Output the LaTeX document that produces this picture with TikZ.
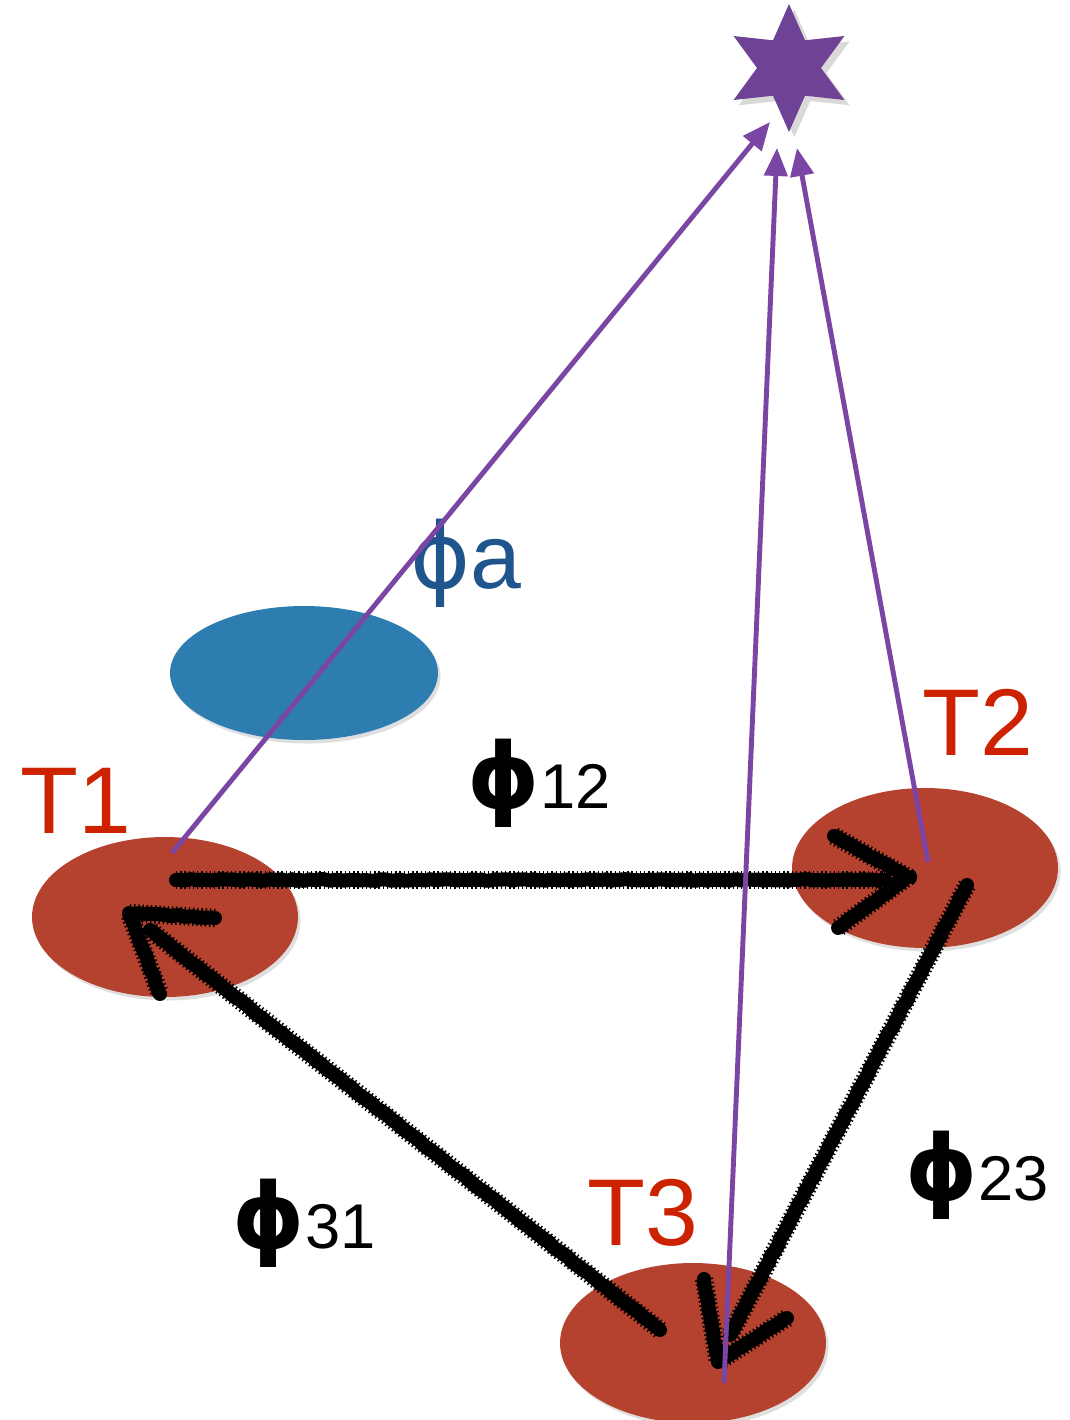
\documentclass[tikz,border=0pt]{standalone}
\usepackage{fontspec}
\setmainfont{Liberation Sans}
\newfontfamily\phifont{DejaVu Sans}
\usetikzlibrary{shapes.geometric,arrows.meta,decorations.pathmorphing,shadows}

\definecolor{tokenred}{HTML}{B5412F}
\definecolor{labelred}{HTML}{CC2200}
\definecolor{anchorblue}{HTML}{2E7DB0}
\definecolor{phiblue}{HTML}{1F558C}
\definecolor{rayviolet}{HTML}{7A45A3}
\definecolor{starviolet}{HTML}{6E4396}

\tikzset{
  token/.style={ellipse, fill=tokenred, minimum width=5.32cm, minimum height=3.2cm, inner sep=0pt,
    drop shadow={shadow xshift=1.5pt, shadow yshift=-2pt, opacity=0.25}},
  anchorblob/.style={ellipse, fill=anchorblue, minimum width=5.36cm, minimum height=2.68cm, inner sep=0pt,
    drop shadow={shadow xshift=1.5pt, shadow yshift=-2pt, opacity=0.25}},
  tlabel/.style={text=labelred, inner sep=0pt, anchor=base west, font=\fontsize{54}{60}\selectfont},
  philabel/.style={text=black, inner sep=0pt, anchor=base west},
  ray/.style={draw=rayviolet, line width=2.8pt, -{Triangle[length=0.56cm, width=0.46cm]}},
  chalk/.style={draw=black, line width=8pt, line cap=round, line join=round,
    decorate, decoration={random steps, segment length=2pt, amplitude=0.45pt}},
  chalkedge/.style={draw=black, line width=10.5pt, line cap=butt, line join=round,
    dash pattern=on 0.8pt off 1.6pt},
}

\newcommand{\bigphi}[1]{{\phifont\fontsize{52}{60}\selectfont\bfseries ϕ}{\fontsize{36}{40}\selectfont #1}}

% a rough charcoal stroke along a given path
\newcommand{\charcoal}[1]{\path[chalkedge] #1; \path[chalk] #1;}

\begin{document}
\begin{tikzpicture}[x=0.02cm, y=-0.02cm]
  \pgfmathsetseed{7}
  \useasboundingbox (0,0) rectangle (1069,1420);

  % target star
  \node[star, star points=6, star point ratio=2.0, minimum size=2.56cm, inner sep=0pt,
        fill=starviolet, drop shadow={shadow xshift=3pt, shadow yshift=-3pt, opacity=0.3}] (star) at (789,68) {};

  % anchor and tokens
  \node[anchorblob] (anchor) at (304,673) {};
  \node[token] (T1) at (165,917) {};
  \node[token] (T2) at (925,868) {};
  \node[token] (T3) at (693,1343) {};

  % labels
  \node[tlabel] (t1lab) at (20,833) {T1};
  \node[tlabel] (t2lab) at (922,755) {T2};
  \node[tlabel] (t3lab) at (587,1245) {T3};
  \node[philabel, text=phiblue, font=\fontsize{52}{56}\selectfont] (phia) at (410,588) {{\phifont ϕ}a};
  \node[philabel] (phi12) at (467,808) {\bigphi{12}};
  \node[philabel] (phi23) at (905,1200) {\bigphi{23}};
  \node[philabel] (phi31) at (232,1248) {\bigphi{31}};

  % ray end points
  \coordinate (r1s) at (172,853);
  \coordinate (r1e) at (770,122);
  \coordinate (r2s) at (928,862);
  \coordinate (r2e) at (797,148);
  \coordinate (r3s) at (724,1383);
  \coordinate (r3e) at (777,148);

  % hand-drawn cycle T1 -> T2 -> T3 -> T1
  \coordinate (a12s) at (176,880);
  \coordinate (a12e) at (885,880);
  \coordinate (h12t) at (908,877);
  \coordinate (h12a) at (834,836);
  \coordinate (h12b) at (838,928);

  \coordinate (a23s) at (967,885);
  \coordinate (a23e) at (730,1335);
  \coordinate (h23t) at (718,1362);
  \coordinate (h23a) at (704,1279);
  \coordinate (h23b) at (787,1318);

  \coordinate (a31s) at (660,1330);
  \coordinate (a31e) at (150,930);
  \coordinate (h31t) at (129,913);
  \coordinate (h31a) at (215,918);
  \coordinate (h31b) at (160,994);

  \charcoal{(a12s) -- (a12e)}
  \charcoal{(h12a) -- (h12t) -- (h12b)}
  \charcoal{(a23s) -- (a23e)}
  \charcoal{(h23a) -- (h23t) -- (h23b)}
  \charcoal{(a31s) -- (a31e)}
  \charcoal{(h31a) -- (h31t) -- (h31b)}

  % rays to the star
  \draw[ray] (r1s) -- (r1e);
  \draw[ray] (r3s) -- (r3e);
  \draw[ray] (r2s) -- (r2e);
\end{tikzpicture}
\end{document}
